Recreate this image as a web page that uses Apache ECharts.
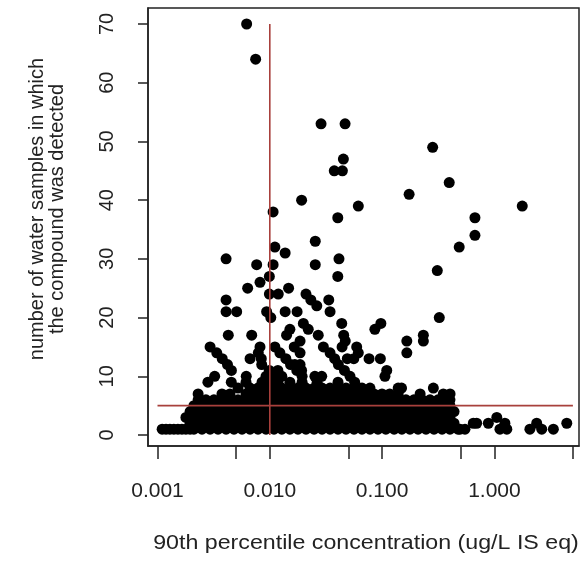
<!DOCTYPE html>
<html><head><meta charset="utf-8">
<script src="https://cdn.jsdelivr.net/npm/echarts@6/dist/echarts.min.js"></script>
<style>html,body{margin:0;padding:0;background:#fff}#c{width:582px;height:565px}</style>
</head><body><div id="c"></div>
<script>
// ---- axis ticks / labels ----
const xTickConc = [0.001, 0.005, 0.01, 0.05, 0.1, 0.5, 1, 5];
const xLabelConc = [0.001, 0.01, 0.1, 1];
const xLabelText = ['0.001', '0.010', '0.100', '1.000'];
const yTicks = [0, 10, 20, 30, 40, 50, 60, 70];
const xTitle = '90th percentile concentration (ug/L IS eq)';
const yTitle = 'number of water samples in which\nthe compound was detected';

// ---- reference lines ----
const refConc = 0.01;            // vertical line
const refConcSpan = [0, 70];
const refCount = 5;              // horizontal line
const refCountSpan = [0.001, 5];

// ---- dense rows (count = 1..10), concentrations in ug/L ----
const denseCounts = [1, 2, 3, 4, 5, 6, 7, 8, 9, 10];
const denseRow1 = [0.00110,0.00119,0.00129,0.00140,0.00152,0.00165,0.00179,0.00195,0.00211,0.00249,0.00294,0.00346,0.00408,0.00480,0.00566,0.00667,0.00785,0.00925,0.0109,0.0128,0.0151,0.0178,0.0210,0.0248,0.0292,0.0344,0.0405,0.0477,0.0562,0.0662,0.0780,0.0919,0.108,0.128,0.150,0.177,0.209,0.246,0.290,0.342,0.402,0.474,0.494,0.547,1.12,1.29,2.07,2.64,3.35];
const denseRow2 = [0.00195,0.00230,0.00270,0.00318,0.00375,0.00442,0.00521,0.00614,0.00723,0.00853,0.01004,0.0118,0.0139,0.0164,0.0194,0.0228,0.0269,0.0316,0.0373,0.0440,0.0518,0.0610,0.0719,0.0847,0.0998,0.117,0.139,0.163,0.192,0.227,0.267,0.315,0.363,0.437,0.649,0.695,0.883,1.24,2.38,4.41];
const denseRow3 = [0.00179,0.00211,0.00249,0.00294,0.00346,0.00408,0.00480,0.00566,0.00667,0.00785,0.00925,0.0109,0.0128,0.0151,0.0178,0.0210,0.0248,0.0292,0.0344,0.0405,0.0477,0.0562,0.0662,0.0780,0.0919,0.108,0.128,0.150,0.177,0.209,0.246,0.290,0.342,0.402,1.05];
const denseRow4 = [0.00195,0.00230,0.00270,0.00318,0.00375,0.00442,0.00521,0.00614,0.00723,0.00853,0.01004,0.0118,0.0139,0.0164,0.0194,0.0228,0.0269,0.0316,0.0373,0.0440,0.0518,0.0610,0.0719,0.0847,0.0998,0.117,0.139,0.163,0.192,0.227,0.267,0.315,0.371,0.437];
const denseRow5 = [0.00211,0.00249,0.00294,0.00346,0.00408,0.00480,0.00566,0.00667,0.00785,0.00925,0.0109,0.0128,0.0151,0.0178,0.0210,0.0248,0.0292,0.0344,0.0405,0.0477,0.0562,0.0662,0.0780,0.0919,0.108,0.128,0.150,0.177,0.209,0.246,0.290,0.342,0.402];
const denseRow6 = [0.00230,0.00270,0.00318,0.00375,0.00442,0.00521,0.00614,0.00723,0.00853,0.01004,0.0118,0.0139,0.0164,0.0194,0.0228,0.0269,0.0316,0.0373,0.0440,0.0518,0.0610,0.0719,0.0847,0.0998,0.117,0.139,0.163,0.192,0.227,0.267,0.315,0.371,0.402];
const denseRow7 = [0.00230,0.00375,0.00442,0.00614,0.00723,0.00853,0.01004,0.0118,0.0139,0.0164,0.0194,0.0228,0.0269,0.0316,0.0373,0.0440,0.0518,0.0610,0.0719,0.0847,0.0998,0.117,0.139,0.218,0.351,0.403];
const denseRow8 = [0.00521,0.00667,0.00785,0.00925,0.0109,0.0128,0.0151,0.0178,0.0210,0.0248,0.0292,0.0344,0.0405,0.0477,0.0562,0.0662,0.0780,0.139,0.149,0.286];
const denseRow9 = [0.00281,0.00454,0.00614,0.00853,0.01004,0.0118,0.0151,0.0194,0.0264,0.0405,0.0570];
const denseRow10 = [0.00323,0.00617,0.00925,0.0109,0.0128,0.0194,0.0252,0.0290,0.0518,0.106];

// ---- sparse points (count >= 11) ----
const sparseCounts = [70,64,53,53,49,47,45,45,43,41,40,39,39,38,37,37,34,33,32,32,31,30,30,29,29,29,28,27,27,26,25,25,24,24,24,23,23,23,22,21,21,21,21,21,21,20,20,19,19,19,18,18,18,17,17,17,17,17,17,16,16,16,16,15,15,15,15,15,15,15,14,14,14,14,14,14,14,13,13,13,13,13,13,13,13,13,12,12,12,12,12,12,11,11,11,11,11,11,11];
const sparseConc = [0.00622,0.00748,0.0286,0.0468,0.282,0.0452,0.0375,0.0443,0.396,0.174,0.0192,0.0614,1.77,0.0107,0.0403,0.671,0.671,0.0254,0.0111,0.486,0.0137,0.00408,0.0413,0.00764,0.0107,0.0254,0.310,0.00991,0.0403,0.00818,0.00635,0.0147,0.00991,0.0119,0.0210,0.00408,0.0232,0.0335,0.0262,0.00408,0.00507,0.00937,0.0137,0.0175,0.0344,0.0102,0.323,0.0199,0.0437,0.0975,0.0151,0.0220,0.0862,0.00427,0.00690,0.0141,0.0270,0.0455,0.233,0.0186,0.0470,0.166,0.233,0.00294,0.00818,0.0111,0.0165,0.0300,0.0440,0.0594,0.00337,0.00790,0.0123,0.0186,0.0344,0.0614,0.166,0.00377,0.00667,0.00840,0.0139,0.0378,0.0490,0.0560,0.0765,0.0965,0.00420,0.00847,0.0153,0.0167,0.0186,0.0408,0.00455,0.00990,0.0118,0.0174,0.0192,0.0462,0.110];

// ---- build ----
const LOG = Math.log10;
const denseRows = [denseRow1, denseRow2, denseRow3, denseRow4, denseRow5, denseRow6, denseRow7, denseRow8, denseRow9, denseRow10];
const points = [];
denseRows.forEach((row, i) => row.forEach(c => points.push([LOG(c), denseCounts[i]])));
sparseConc.forEach((c, i) => points.push([LOG(c), sparseCounts[i]]));

const FONT = '"Liberation Sans", Arial, sans-serif';
const TXT = '#222';
const chart = echarts.init(document.getElementById('c'), null, {renderer: 'canvas'});
chart.setOption({
  animation: false,
  backgroundColor: '#fff',
  grid: {left: 148, top: 8, width: 431, height: 438, show: true, borderColor: '#222', borderWidth: 1.5, backgroundColor: '#fff'},
  xAxis: {
    type: 'value', min: -3.0846, max: 0.7533,
    splitLine: {show: false},
    axisLine: {show: true, onZero: false, lineStyle: {color: '#222', width: 1.5}},
    axisTick: {show: true, length: 13, customValues: xTickConc.map(LOG), lineStyle: {color: '#222', width: 1.5}},
    axisLabel: {
      customValues: xLabelConc.map(LOG),
      formatter: v => { const i = xLabelConc.findIndex(c => Math.abs(LOG(c) - v) < 1e-6); return i >= 0 ? xLabelText[i] : ''; },
      fontSize: 21, fontFamily: FONT, color: TXT, margin: 35
    }
  },
  yAxis: {
    type: 'value', min: -1.873, max: 72.725,
    splitLine: {show: false},
    axisLine: {show: true, onZero: false, lineStyle: {color: '#222', width: 1.5}},
    axisTick: {show: true, length: 10, customValues: yTicks, lineStyle: {color: '#222', width: 1.5}},
    axisLabel: {customValues: yTicks, rotate: 90, fontSize: 20, fontFamily: FONT, color: TXT, margin: 31}
  },
  series: [
    {type: 'scatter', data: points, symbol: 'circle', symbolSize: 11, itemStyle: {color: '#000', opacity: 1}, emphasis: {disabled: true}, z: 2},
    {type: 'line', data: refConcSpan.map(n => [LOG(refConc), n]), showSymbol: false, symbol: 'none', lineStyle: {color: '#a8403c', width: 1.6}, z: 5},
    {type: 'line', data: refCountSpan.map(c => [LOG(c), refCount]), showSymbol: false, symbol: 'none', lineStyle: {color: '#a8403c', width: 1.6}, z: 5}
  ],
  graphic: [
    {type: 'text', x: 47, y: 209, rotation: Math.PI / 2,
     style: {text: yTitle, fontSize: 20, fontFamily: FONT, fill: TXT, align: 'center', verticalAlign: 'middle', lineHeight: 20}},
    {type: 'text', x: 366, y: 543, scaleX: 1.16,
     style: {text: xTitle, fontSize: 20, fontFamily: FONT, fill: TXT, align: 'center', verticalAlign: 'middle'}}
  ]
});
</script></body></html>
